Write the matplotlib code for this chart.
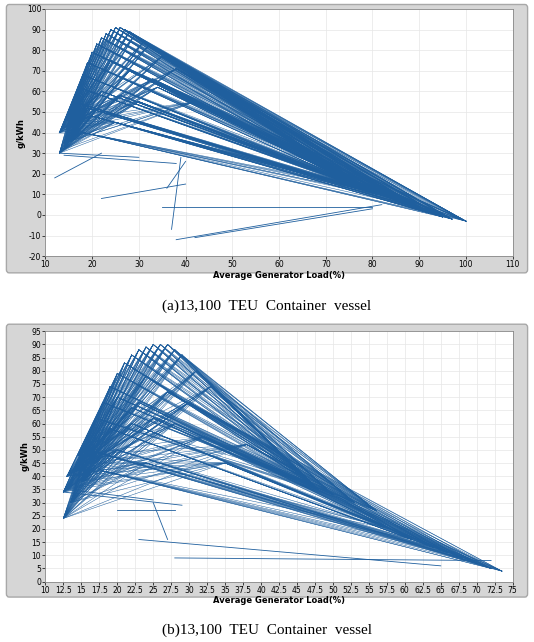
import matplotlib
matplotlib.use("Agg")
import matplotlib.pyplot as plt
from matplotlib.patches import FancyBboxPatch

# Panel (a): start points, hump (peak) points, end points
a_start_x = [13, 14, 13, 15, 14, 16, 13.5, 14.5, 15.5]
a_start_y = [40, 35, 30, 44, 32, 38, 42, 46, 36]
a_peak_x = [16, 17, 18, 19, 20, 21, 22, 23, 24, 25, 26, 27, 28, 29, 31, 32, 35, 38, 22, 26, 30, 20, 25, 18, 34, 42, 28, 24, 33, 19]
a_peak_y = [55, 62, 68, 74, 79, 83, 86, 88, 90, 91, 91, 90, 89, 87, 84, 82, 77, 71, 60, 58, 55, 48, 45, 40, 62, 55, 70, 75, 66, 52]
a_end_x = [77, 78, 79, 81, 83, 86, 89, 92, 95, 97, 100]
a_end_y = [14, 13, 12, 10, 9, 7, 4, 1, -1, -2, -3]
# stray segments (a)
a_sx0 = [12, 22, 37, 42, 35, 38, 13, 40, 14]
a_sy0 = [18, 8, -7, -11, 4, -12, 30, 26, 29]
a_sx1 = [22, 40, 39, 80, 80, 82, 30, 36, 38]
a_sy1 = [30, 15, 28, 3, 4, 5, 28, 13, 25]

# Panel (b): two groups of hump points with their own end points
b_start_x = [13, 12.5, 13, 14, 15, 13.5, 16, 12.5, 14.5]
b_start_y = [40, 24, 35, 42, 38, 30, 45, 34, 48]
b_peak1_x = [17, 18, 19, 20, 21, 22, 23, 24, 25, 26, 27, 28, 29, 31, 33, 20, 24, 22]
b_peak1_y = [62, 68, 74, 79, 83, 86, 88, 89, 90, 90, 90, 88, 86, 80, 74, 70, 78, 66]
b_end1_x = [47, 46, 48, 50, 53, 56]
b_end1_y = [37, 40, 35, 33, 30, 27]
b_peak2_x = [16, 18, 20, 22, 25, 28, 32, 24, 35, 27, 30, 38, 19, 23]
b_peak2_y = [50, 42, 50, 60, 62, 60, 55, 45, 45, 72, 68, 52, 58, 68]
b_end2_x = [58, 61, 64, 66, 68, 70, 72, 73.5]
b_end2_y = [20, 16, 13, 11, 9, 7, 5, 4]
b_sx0 = [12.5, 20, 23, 28, 13, 25]
b_sy0 = [34, 27, 16, 9, 35, 30]
b_sx1 = [29, 28, 65, 72, 25, 27]
b_sy1 = [29, 27, 6, 8, 31, 16]

blue = "#1f5f9e"
LW = 0.35
fig = plt.figure(figsize=(5.34, 6.42), dpi=100)


def frame(rect_bg):
    p = FancyBboxPatch(rect_bg[:2], rect_bg[2], rect_bg[3], boxstyle="round,pad=0,rounding_size=0.005",
                       transform=fig.transFigure, facecolor="#d6d6d6", edgecolor="#a8a8a8", lw=1, zorder=-5)
    fig.patches.append(p)


def fan(ax, sx, sy, px, py, ex, ey):
    for i in range(len(sx)):
        for j in range(len(px)):
            ax.plot([sx[i], px[j]], [sy[i], py[j]], color=blue, lw=LW)
    for j in range(len(px)):
        for k in range(len(ex)):
            ax.plot([px[j], ex[k]], [py[j], ey[k]], color=blue, lw=LW)


def style(ax, xlim, xt, ylim, yt):
    ax.set_zorder(1)
    ax.set_xlim(*xlim); ax.set_ylim(*ylim)
    ax.set_xticks(xt); ax.set_yticks(yt)
    ax.set_xticklabels([("%g" % v) for v in xt], fontsize=5.5)
    ax.set_yticklabels([("%g" % v) for v in yt], fontsize=5.5)
    ax.grid(True, color="#e6e6e6", lw=0.5)
    ax.set_axisbelow(True)
    for s in ax.spines.values():
        s.set_color("#888888"); s.set_linewidth(0.6)
    ax.tick_params(length=2, width=0.5, pad=1)
    ax.set_xlabel("Average Generator Load(%)", fontsize=6, fontweight="bold", labelpad=1)
    ax.set_ylabel("g/kWh", fontsize=6, fontweight="bold", labelpad=1)


# (a)
frame([0.012, 0.575, 0.976, 0.418])
ax1 = fig.add_axes([0.085, 0.601, 0.875, 0.385])
fan(ax1, a_start_x, a_start_y, a_peak_x, a_peak_y, a_end_x, a_end_y)
for i in range(len(a_sx0)):
    ax1.plot([a_sx0[i], a_sx1[i]], [a_sy0[i], a_sy1[i]], color=blue, lw=0.6)
style(ax1, (10, 110), list(range(10, 111, 10)), (-20, 100), list(range(-20, 101, 10)))
fig.text(0.5, 0.518, "(a)13,100  TEU  Container  vessel", ha="center", fontsize=11, family="Liberation Serif")

# (b)
frame([0.012, 0.07, 0.976, 0.425])
ax2 = fig.add_axes([0.085, 0.094, 0.875, 0.39])
fan(ax2, b_start_x, b_start_y, b_peak1_x, b_peak1_y, b_end1_x, b_end1_y)
fan(ax2, b_start_x, b_start_y, b_peak2_x, b_peak2_y, b_end2_x, b_end2_y)
for i in range(len(b_sx0)):
    ax2.plot([b_sx0[i], b_sx1[i]], [b_sy0[i], b_sy1[i]], color=blue, lw=0.6)
style(ax2, (10, 75), [10 + 2.5 * k for k in range(27)], (0, 95), list(range(0, 96, 5)))
fig.text(0.5, 0.012, "(b)13,100  TEU  Container  vessel", ha="center", fontsize=11, family="Liberation Serif")

fig.savefig("out.png", dpi=100)
